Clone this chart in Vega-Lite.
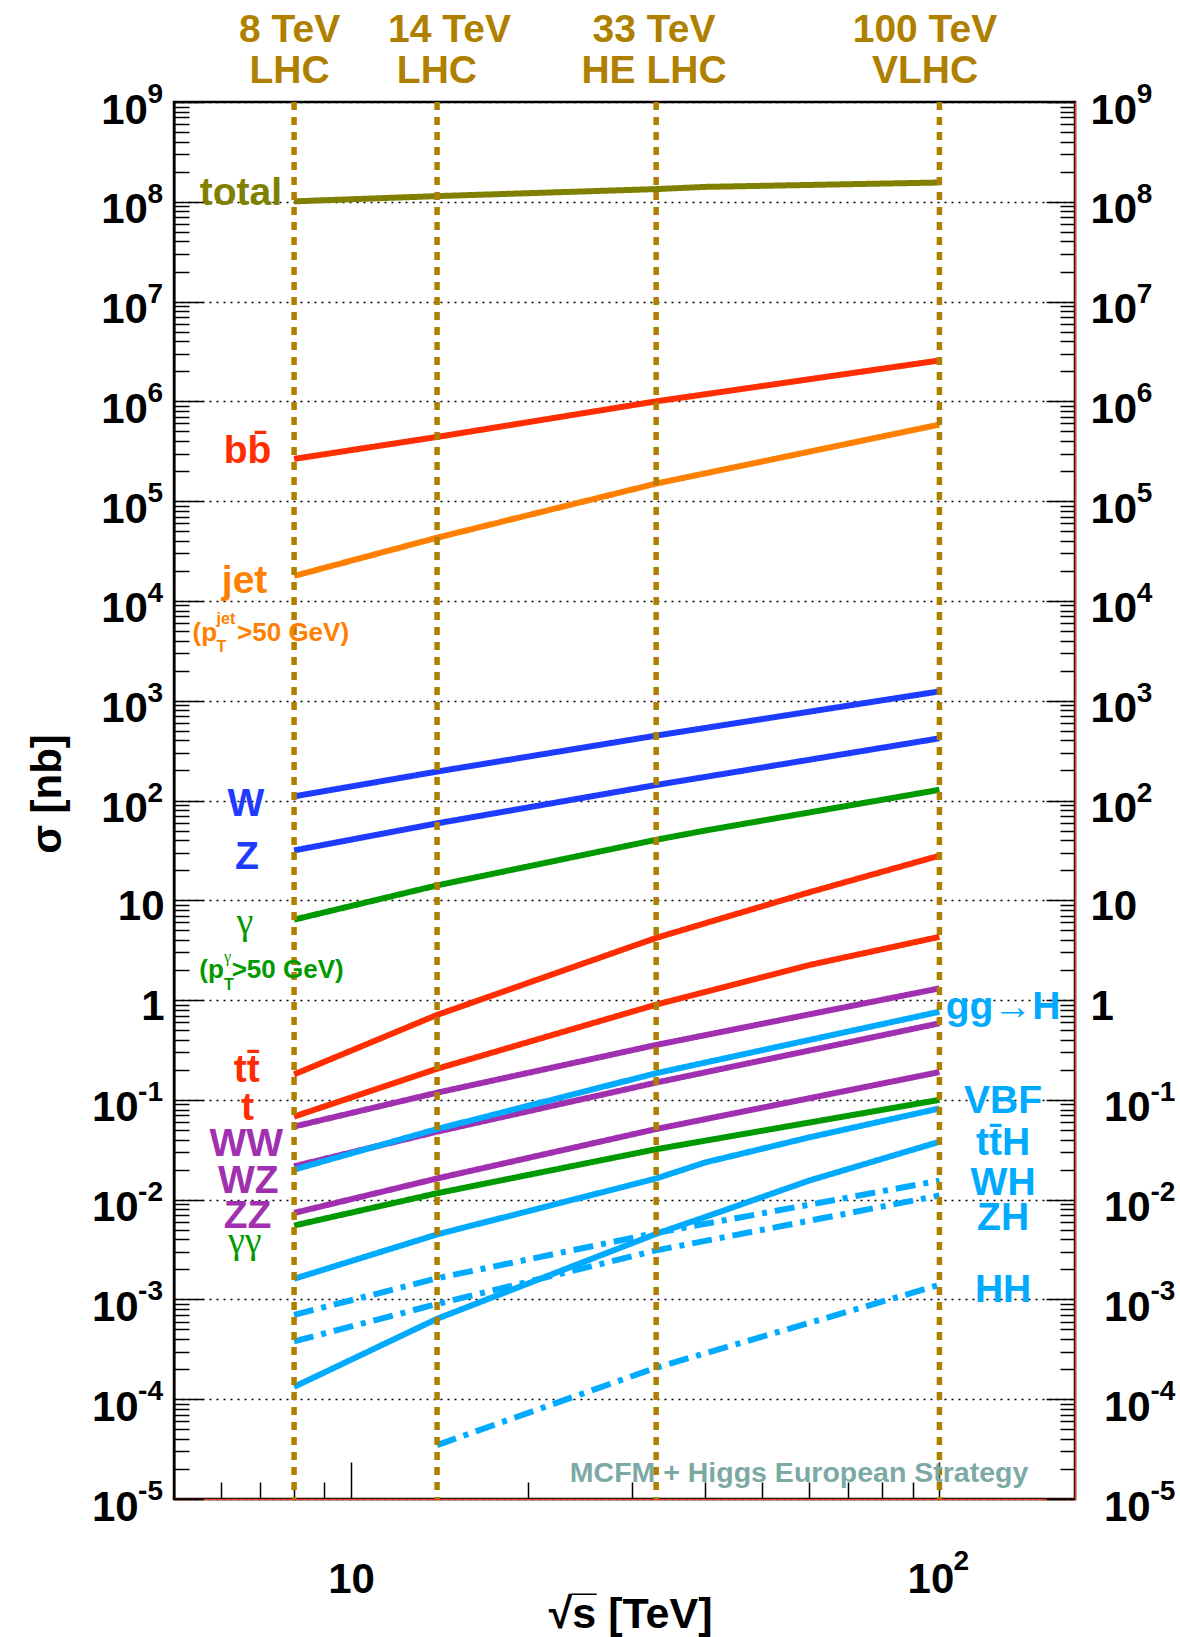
{
  "$schema": "https://vega.github.io/schema/vega-lite/v6.json",
  "width": 901,
  "height": 1397,
  "autosize": {"type": "none"},
  "padding": {"left": 174, "top": 102, "right": 105, "bottom": 138},
  "background": "#ffffff",
  "config": {
    "view": {"stroke": "#000000", "strokeWidth": 2.5},
    "font": "Liberation Sans",
    "axis": {
      "labelFont": "Liberation Sans", "titleFont": "Liberation Sans",
      "labelColor": "#000000", "titleColor": "#000000",
      "tickColor": "#000000", "tickWidth": 1.5,
      "labelOverlap": false, "labelFlush": false, "labelBound": false,
      "labelFontSize": 42, "labelFontWeight": "bold"
    }
  },
  "datasets": {
    "xsec": [
      {"process": "total", "family": "total", "style": "solid", "sqrts": 8, "sigma": 1.01e8},
      {"process": "total", "family": "total", "style": "solid", "sqrts": 14, "sigma": 1.14e8},
      {"process": "total", "family": "total", "style": "solid", "sqrts": 33, "sigma": 1.34e8},
      {"process": "total", "family": "total", "style": "solid", "sqrts": 40, "sigma": 1.41e8},
      {"process": "total", "family": "total", "style": "solid", "sqrts": 100, "sigma": 1.56e8},
      {"process": "bb", "family": "heavy", "style": "solid", "sqrts": 8, "sigma": 2.65e5},
      {"process": "bb", "family": "heavy", "style": "solid", "sqrts": 14, "sigma": 4.4e5},
      {"process": "bb", "family": "heavy", "style": "solid", "sqrts": 33, "sigma": 1.0e6},
      {"process": "bb", "family": "heavy", "style": "solid", "sqrts": 100, "sigma": 2.57e6},
      {"process": "jet", "family": "jet", "style": "solid", "sqrts": 8, "sigma": 1.78e4},
      {"process": "jet", "family": "jet", "style": "solid", "sqrts": 14, "sigma": 4.3e4},
      {"process": "jet", "family": "jet", "style": "solid", "sqrts": 33, "sigma": 1.5e5},
      {"process": "jet", "family": "jet", "style": "solid", "sqrts": 100, "sigma": 5.85e5},
      {"process": "W", "family": "ew", "style": "solid", "sqrts": 8, "sigma": 110},
      {"process": "W", "family": "ew", "style": "solid", "sqrts": 14, "sigma": 195},
      {"process": "W", "family": "ew", "style": "solid", "sqrts": 33, "sigma": 447},
      {"process": "W", "family": "ew", "style": "solid", "sqrts": 100, "sigma": 1240},
      {"process": "Z", "family": "ew", "style": "solid", "sqrts": 8, "sigma": 31.6},
      {"process": "Z", "family": "ew", "style": "solid", "sqrts": 14, "sigma": 59},
      {"process": "Z", "family": "ew", "style": "solid", "sqrts": 33, "sigma": 143},
      {"process": "Z", "family": "ew", "style": "solid", "sqrts": 100, "sigma": 420},
      {"process": "gamma", "family": "photon", "style": "solid", "sqrts": 8, "sigma": 6.4},
      {"process": "gamma", "family": "photon", "style": "solid", "sqrts": 14, "sigma": 14.1},
      {"process": "gamma", "family": "photon", "style": "solid", "sqrts": 33, "sigma": 40.4},
      {"process": "gamma", "family": "photon", "style": "solid", "sqrts": 40, "sigma": 50},
      {"process": "gamma", "family": "photon", "style": "solid", "sqrts": 100, "sigma": 128},
      {"process": "ttbar", "family": "heavy", "style": "solid", "sqrts": 8, "sigma": 0.18},
      {"process": "ttbar", "family": "heavy", "style": "solid", "sqrts": 14, "sigma": 0.71},
      {"process": "ttbar", "family": "heavy", "style": "solid", "sqrts": 33, "sigma": 4.2},
      {"process": "ttbar", "family": "heavy", "style": "solid", "sqrts": 60, "sigma": 12},
      {"process": "ttbar", "family": "heavy", "style": "solid", "sqrts": 100, "sigma": 28},
      {"process": "t", "family": "heavy", "style": "solid", "sqrts": 8, "sigma": 0.068},
      {"process": "t", "family": "heavy", "style": "solid", "sqrts": 14, "sigma": 0.205},
      {"process": "t", "family": "heavy", "style": "solid", "sqrts": 33, "sigma": 0.9},
      {"process": "t", "family": "heavy", "style": "solid", "sqrts": 60, "sigma": 2.24},
      {"process": "t", "family": "heavy", "style": "solid", "sqrts": 100, "sigma": 4.3},
      {"process": "WW", "family": "diboson", "style": "solid", "sqrts": 8, "sigma": 0.054},
      {"process": "WW", "family": "diboson", "style": "solid", "sqrts": 14, "sigma": 0.118},
      {"process": "WW", "family": "diboson", "style": "solid", "sqrts": 33, "sigma": 0.355},
      {"process": "WW", "family": "diboson", "style": "solid", "sqrts": 100, "sigma": 1.31},
      {"process": "WZ", "family": "diboson", "style": "solid", "sqrts": 8, "sigma": 0.0216},
      {"process": "WZ", "family": "diboson", "style": "solid", "sqrts": 14, "sigma": 0.048},
      {"process": "WZ", "family": "diboson", "style": "solid", "sqrts": 33, "sigma": 0.149},
      {"process": "WZ", "family": "diboson", "style": "solid", "sqrts": 100, "sigma": 0.585},
      {"process": "ZZ", "family": "diboson", "style": "solid", "sqrts": 8, "sigma": 0.00736},
      {"process": "ZZ", "family": "diboson", "style": "solid", "sqrts": 14, "sigma": 0.0163},
      {"process": "ZZ", "family": "diboson", "style": "solid", "sqrts": 33, "sigma": 0.051},
      {"process": "ZZ", "family": "diboson", "style": "solid", "sqrts": 100, "sigma": 0.19},
      {"process": "gammagamma", "family": "photon", "style": "solid", "sqrts": 8, "sigma": 0.0055},
      {"process": "gammagamma", "family": "photon", "style": "solid", "sqrts": 14, "sigma": 0.0116},
      {"process": "gammagamma", "family": "photon", "style": "solid", "sqrts": 33, "sigma": 0.032},
      {"process": "gammagamma", "family": "photon", "style": "solid", "sqrts": 100, "sigma": 0.1},
      {"process": "ggH", "family": "higgs", "style": "solid", "sqrts": 8, "sigma": 0.02},
      {"process": "ggH", "family": "higgs", "style": "solid", "sqrts": 14, "sigma": 0.051},
      {"process": "ggH", "family": "higgs", "style": "solid", "sqrts": 33, "sigma": 0.185},
      {"process": "ggH", "family": "higgs", "style": "solid", "sqrts": 100, "sigma": 0.764},
      {"process": "VBF", "family": "higgs", "style": "solid", "sqrts": 8, "sigma": 0.00161},
      {"process": "VBF", "family": "higgs", "style": "solid", "sqrts": 14, "sigma": 0.00448},
      {"process": "VBF", "family": "higgs", "style": "solid", "sqrts": 33, "sigma": 0.0163},
      {"process": "VBF", "family": "higgs", "style": "solid", "sqrts": 40, "sigma": 0.0236},
      {"process": "VBF", "family": "higgs", "style": "solid", "sqrts": 60, "sigma": 0.042},
      {"process": "VBF", "family": "higgs", "style": "solid", "sqrts": 100, "sigma": 0.082},
      {"process": "ttH", "family": "higgs", "style": "solid", "sqrts": 8, "sigma": 1.33e-4},
      {"process": "ttH", "family": "higgs", "style": "solid", "sqrts": 14, "sigma": 6.4e-4},
      {"process": "ttH", "family": "higgs", "style": "solid", "sqrts": 33, "sigma": 0.00454},
      {"process": "ttH", "family": "higgs", "style": "solid", "sqrts": 40, "sigma": 0.0067},
      {"process": "ttH", "family": "higgs", "style": "solid", "sqrts": 60, "sigma": 0.0155},
      {"process": "ttH", "family": "higgs", "style": "solid", "sqrts": 100, "sigma": 0.038},
      {"process": "WH", "family": "higgs", "style": "dashdot", "sqrts": 8, "sigma": 7.0e-4},
      {"process": "WH", "family": "higgs", "style": "dashdot", "sqrts": 14, "sigma": 0.00163},
      {"process": "WH", "family": "higgs", "style": "dashdot", "sqrts": 33, "sigma": 0.00464},
      {"process": "WH", "family": "higgs", "style": "dashdot", "sqrts": 100, "sigma": 0.0155},
      {"process": "ZH", "family": "higgs", "style": "dashdot", "sqrts": 8, "sigma": 3.8e-4},
      {"process": "ZH", "family": "higgs", "style": "dashdot", "sqrts": 14, "sigma": 9.0e-4},
      {"process": "ZH", "family": "higgs", "style": "dashdot", "sqrts": 33, "sigma": 0.0031},
      {"process": "ZH", "family": "higgs", "style": "dashdot", "sqrts": 100, "sigma": 0.011},
      {"process": "HH", "family": "higgs", "style": "dashdot", "sqrts": 14, "sigma": 3.47e-5},
      {"process": "HH", "family": "higgs", "style": "dashdot", "sqrts": 33, "sigma": 2.07e-4},
      {"process": "HH", "family": "higgs", "style": "dashdot", "sqrts": 100, "sigma": 1.4e-3}
    ],
    "beams": [{"sqrts": 8}, {"sqrts": 14}, {"sqrts": 33}, {"sqrts": 100}],
    "colliders": [
      {"label": "8 TeV", "sqrts": 7.86, "sigma": 4.02e9},
      {"label": "LHC", "sqrts": 7.86, "sigma": 1.561e9},
      {"label": "14 TeV", "sqrts": 14.7, "sigma": 4.02e9},
      {"label": "LHC", "sqrts": 13.99, "sigma": 1.561e9},
      {"label": "33 TeV", "sqrts": 32.72, "sigma": 4.02e9},
      {"label": "HE LHC", "sqrts": 32.72, "sigma": 1.561e9},
      {"label": "100 TeV", "sqrts": 94.5, "sigma": 4.02e9},
      {"label": "VLHC", "sqrts": 94.5, "sigma": 1.561e9}
    ],
    "names": [
      {"label": "total", "family": "total", "sqrts": 6.494, "sigma": 9.29e7},
      {"label": "bb\u0304", "family": "heavy", "sqrts": 6.668, "sigma": 2.395e5},
      {"label": "jet", "family": "jet", "sqrts": 6.59, "sigma": 1.202e4},
      {"label": "W", "family": "ew", "sqrts": 6.622, "sigma": 69.9},
      {"label": "Z", "family": "ew", "sqrts": 6.654, "sigma": 20.45},
      {"label": "tt\u0304", "family": "heavy", "sqrts": 6.648, "sigma": 0.1524},
      {"label": "t", "family": "heavy", "sqrts": 6.668, "sigma": 0.0629},
      {"label": "WW", "family": "diboson", "sqrts": 6.637, "sigma": 0.02742},
      {"label": "WZ", "family": "diboson", "sqrts": 6.689, "sigma": 0.01175},
      {"label": "ZZ", "family": "diboson", "sqrts": 6.668, "sigma": 0.005166},
      {"label": "gg\u2192H", "family": "higgs", "sqrts": 128.3, "sigma": 0.65},
      {"label": "VBF", "family": "higgs", "sqrts": 128.3, "sigma": 0.0744},
      {"label": "tt\u0304H", "family": "higgs", "sqrts": 128.3, "sigma": 0.02805},
      {"label": "WH", "family": "higgs", "sqrts": 128.3, "sigma": 0.01114},
      {"label": "ZH", "family": "higgs", "sqrts": 128.3, "sigma": 0.004966},
      {"label": "HH", "family": "higgs", "sqrts": 128.3, "sigma": 0.000944}
    ],
    "greek": [
      {"label": "\u03b3", "family": "photon", "sqrts": 6.596, "sigma": 4.6},
      {"label": "\u03b3\u03b3", "family": "photon", "sqrts": 6.596, "sigma": 0.002924}
    ],
    "cuts": [
      {"label": "(p", "family": "jet", "sqrts": 5.378, "sigma": 3972},
      {"label": ">50 GeV)", "family": "jet", "sqrts": 6.4, "sigma": 3972},
      {"label": "(p", "family": "photon", "sqrts": 5.52, "sigma": 1.666},
      {"label": ">50 GeV)", "family": "photon", "sqrts": 6.265, "sigma": 1.666}
    ],
    "cutscripts": [
      {"label": "jet", "family": "jet", "sqrts": 5.906, "sigma": 5875},
      {"label": "T", "family": "jet", "sqrts": 5.906, "sigma": 3076},
      {"label": "T", "family": "photon", "sqrts": 6.08, "sigma": 1.263}
    ],
    "cutgreek": [
      {"label": "\u03b3", "family": "photon", "sqrts": 6.08, "sigma": 2.41}
    ],
    "credit": [
      {"label": "MCFM + Higgs European Strategy", "sqrts": 57.73, "sigma": 1.493e-5}
    ],
    "exps": [
      {"v": 1e9, "e": "9"}, {"v": 1e8, "e": "8"}, {"v": 1e7, "e": "7"},
      {"v": 1e6, "e": "6"}, {"v": 1e5, "e": "5"}, {"v": 1e4, "e": "4"},
      {"v": 1e3, "e": "3"}, {"v": 1e2, "e": "2"},
      {"v": 0.1, "e": "-1"}, {"v": 0.01, "e": "-2"}, {"v": 0.001, "e": "-3"},
      {"v": 1e-4, "e": "-4"}, {"v": 1e-5, "e": "-5"}
    ],
    "xexp": [{"v": 100, "e": "2"}]
  },
  "layer": [
    {
      "data": {"name": "xsec"},
      "mark": {"type": "line", "strokeWidth": 6, "strokeCap": "butt"},
      "encoding": {
        "x": {
          "field": "sqrts", "type": "quantitative",
          "scale": {"type": "log", "domain": [5, 170], "nice": false},
          "axis": {
            "orient": "bottom",
            "values": [6, 7, 8, 9, 10, 20, 30, 40, 50, 60, 70, 80, 90, 100],
            "labelExpr": "datum.value == 10 || datum.value == 100 ? '10' : ''",
            "tickSize": {"condition": {"test": "datum.value == 10 || datum.value == 100", "value": -37}, "value": -17},
            "labelOffset": {"condition": {"test": "datum.value == 100", "value": -9}, "value": 0},
            "labelPadding": 130,
            "labelBaseline": "alphabetic",
            "labelAlign": "center",
            "grid": false,
            "domainColor": "#E8432A", "domainWidth": 1.5,
            "title": "\u221as\u0305 [TeV]",
            "titleX": 538, "titleY": 128,
            "titleAlign": "right", "titleBaseline": "alphabetic",
            "titleFontSize": 43, "titleFontWeight": "bold"
          }
        },
        "y": {
          "field": "sigma", "type": "quantitative",
          "scale": {"type": "log", "domain": [1e-5, 1e9], "nice": false},
          "axis": {
            "orient": "left",
            "values": [1e-5,2e-5,3e-5,4e-5,5e-5,6e-5,7e-5,8e-5,9e-5,1e-4,2e-4,3e-4,4e-4,5e-4,6e-4,7e-4,8e-4,9e-4,0.001,0.002,0.003,0.004,0.005,0.006,0.007,0.008,0.009,0.01,0.02,0.03,0.04,0.05,0.06,0.07,0.08,0.09,0.1,0.2,0.3,0.4,0.5,0.6,0.7,0.8,0.9,1,2,3,4,5,6,7,8,9,10,20,30,40,50,60,70,80,90,100,200,300,400,500,600,700,800,900,1000,2000,3000,4000,5000,6000,7000,8000,9000,1e4,2e4,3e4,4e4,5e4,6e4,7e4,8e4,9e4,1e5,2e5,3e5,4e5,5e5,6e5,7e5,8e5,9e5,1e6,2e6,3e6,4e6,5e6,6e6,7e6,8e6,9e6,1e7,2e7,3e7,4e7,5e7,6e7,7e7,8e7,9e7,1e8,2e8,3e8,4e8,5e8,6e8,7e8,8e8,9e8,1e9],
            "labelExpr": "abs(log(datum.value)/LN10 - round(log(datum.value)/LN10)) < 0.001 ? (datum.value > 0.5 && datum.value < 2 ? '1' : '10') : ''",
            "tickSize": {"condition": {"test": "abs(log(datum.value)/LN10 - round(log(datum.value)/LN10)) < 0.001", "value": -29}, "value": -15},
            "grid": true,
            "gridColor": "#000000", "gridDash": [2, 5], "gridWidth": 1.3,
            "gridOpacity": {"condition": {"test": "abs(log(datum.value)/LN10 - round(log(datum.value)/LN10)) < 0.001", "value": 1}, "value": 0},
            "labelPadding": {"condition": [{"test": "datum.value < 0.5", "value": 64.9}, {"test": "datum.value < 20", "value": 39}], "value": 55.6},
            "labelOffset": {"condition": {"test": "datum.value > 0.5 && datum.value < 20", "value": 19}, "value": 21},
            "labelBaseline": "alphabetic",
            "labelAlign": "right",
            "domainColor": "#000000", "domainWidth": 2,
            "title": "\u03c3 [nb]",
            "titleX": -114, "titleY": 691.5, "titleAngle": -90,
            "titleAlign": "center", "titleBaseline": "alphabetic",
            "titleFontSize": 42, "titleFontWeight": "bold"
          }
        },
        "color": {
          "field": "family", "type": "nominal",
          "scale": {
            "domain": ["total", "heavy", "jet", "ew", "photon", "diboson", "higgs"],
            "range": ["#808000", "#FF2D00", "#FF8000", "#1E3CFF", "#009A00", "#A030B0", "#00AAFF"]
          },
          "legend": null
        },
        "strokeDash": {
          "field": "style", "type": "nominal",
          "scale": {"domain": ["solid", "dashdot"], "range": [[1, 0], [20, 8, 5, 8]]},
          "legend": null
        },
        "detail": {"field": "process"}
      }
    },
    {
      "data": {"name": "beams"},
      "mark": {"type": "rule", "color": "#AF7F00", "strokeWidth": 5.5, "strokeDash": [8, 7]},
      "encoding": {
        "x": {"field": "sqrts", "type": "quantitative", "scale": {"type": "log", "domain": [5, 170], "nice": false}, "axis": null}
      }
    },
    {
      "data": {"name": "colliders"},
      "mark": {"type": "text", "align": "center", "baseline": "alphabetic", "fontSize": 39, "fontWeight": "bold", "font": "Liberation Sans", "color": "#AF7F00"},
      "encoding": {
        "x": {"field": "sqrts", "type": "quantitative", "scale": {"type": "log", "domain": [5, 170], "nice": false}, "axis": null},
        "y": {"field": "sigma", "type": "quantitative", "scale": {"type": "log", "domain": [1e-5, 1e9], "nice": false}, "axis": null},
        "text": {"field": "label"}
      }
    },
    {
      "data": {"name": "names"},
      "mark": {"type": "text", "align": "center", "baseline": "alphabetic", "fontSize": 39, "fontWeight": "bold", "font": "Liberation Sans"},
      "encoding": {
        "x": {"field": "sqrts", "type": "quantitative", "scale": {"type": "log", "domain": [5, 170], "nice": false}, "axis": null},
        "y": {"field": "sigma", "type": "quantitative", "scale": {"type": "log", "domain": [1e-5, 1e9], "nice": false}, "axis": null},
        "text": {"field": "label"},
        "color": {"field": "family", "type": "nominal", "legend": null}
      }
    },
    {
      "data": {"name": "greek"},
      "mark": {"type": "text", "align": "center", "baseline": "alphabetic", "fontSize": 38, "fontWeight": "normal", "font": "Liberation Serif"},
      "encoding": {
        "x": {"field": "sqrts", "type": "quantitative", "scale": {"type": "log", "domain": [5, 170], "nice": false}, "axis": null},
        "y": {"field": "sigma", "type": "quantitative", "scale": {"type": "log", "domain": [1e-5, 1e9], "nice": false}, "axis": null},
        "text": {"field": "label"},
        "color": {"field": "family", "type": "nominal", "legend": null}
      }
    },
    {
      "data": {"name": "cuts"},
      "mark": {"type": "text", "align": "left", "baseline": "alphabetic", "fontSize": 26, "fontWeight": "bold", "font": "Liberation Sans"},
      "encoding": {
        "x": {"field": "sqrts", "type": "quantitative", "scale": {"type": "log", "domain": [5, 170], "nice": false}, "axis": null},
        "y": {"field": "sigma", "type": "quantitative", "scale": {"type": "log", "domain": [1e-5, 1e9], "nice": false}, "axis": null},
        "text": {"field": "label"},
        "color": {"field": "family", "type": "nominal", "legend": null}
      }
    },
    {
      "data": {"name": "cutscripts"},
      "mark": {"type": "text", "align": "left", "baseline": "alphabetic", "fontSize": 16, "fontWeight": "bold", "font": "Liberation Sans"},
      "encoding": {
        "x": {"field": "sqrts", "type": "quantitative", "scale": {"type": "log", "domain": [5, 170], "nice": false}, "axis": null},
        "y": {"field": "sigma", "type": "quantitative", "scale": {"type": "log", "domain": [1e-5, 1e9], "nice": false}, "axis": null},
        "text": {"field": "label"},
        "color": {"field": "family", "type": "nominal", "legend": null}
      }
    },
    {
      "data": {"name": "cutgreek"},
      "mark": {"type": "text", "align": "left", "baseline": "alphabetic", "fontSize": 16, "fontWeight": "normal", "font": "Liberation Serif"},
      "encoding": {
        "x": {"field": "sqrts", "type": "quantitative", "scale": {"type": "log", "domain": [5, 170], "nice": false}, "axis": null},
        "y": {"field": "sigma", "type": "quantitative", "scale": {"type": "log", "domain": [1e-5, 1e9], "nice": false}, "axis": null},
        "text": {"field": "label"},
        "color": {"field": "family", "type": "nominal", "legend": null}
      }
    },
    {
      "data": {"name": "credit"},
      "mark": {"type": "text", "align": "center", "baseline": "alphabetic", "fontSize": 28.5, "fontWeight": "bold", "font": "Liberation Sans", "color": "#7DA9A5"},
      "encoding": {
        "x": {"field": "sqrts", "type": "quantitative", "scale": {"type": "log", "domain": [5, 170], "nice": false}, "axis": null},
        "y": {"field": "sigma", "type": "quantitative", "scale": {"type": "log", "domain": [1e-5, 1e9], "nice": false}, "axis": null},
        "text": {"field": "label"}
      }
    },
    {
      "data": {"name": "exps"},
      "mark": {"type": "text", "align": "right", "baseline": "alphabetic", "dx": -11, "dy": 1, "fontSize": 28, "fontWeight": "bold", "font": "Liberation Sans", "color": "#000000"},
      "encoding": {
        "x": {"datum": 5, "type": "quantitative", "scale": {"type": "log", "domain": [5, 170], "nice": false}, "axis": null},
        "y": {"field": "v", "type": "quantitative", "scale": {"type": "log", "domain": [1e-5, 1e9], "nice": false}, "axis": null},
        "text": {"field": "e"}
      }
    },
    {
      "data": {"name": "exps"},
      "transform": [{"filter": "datum.v > 1"}],
      "mark": {"type": "text", "align": "left", "baseline": "alphabetic", "dx": 61.7, "dy": 1, "fontSize": 28, "fontWeight": "bold", "font": "Liberation Sans", "color": "#000000"},
      "encoding": {
        "x": {"datum": 170, "type": "quantitative", "scale": {"type": "log", "domain": [5, 170], "nice": false}, "axis": null},
        "y": {
          "field": "v", "type": "quantitative",
          "scale": {"type": "log", "domain": [1e-5, 1e9], "nice": false},
          "axis": {
            "orient": "right",
            "values": [1e-5,2e-5,3e-5,4e-5,5e-5,6e-5,7e-5,8e-5,9e-5,1e-4,2e-4,3e-4,4e-4,5e-4,6e-4,7e-4,8e-4,9e-4,0.001,0.002,0.003,0.004,0.005,0.006,0.007,0.008,0.009,0.01,0.02,0.03,0.04,0.05,0.06,0.07,0.08,0.09,0.1,0.2,0.3,0.4,0.5,0.6,0.7,0.8,0.9,1,2,3,4,5,6,7,8,9,10,20,30,40,50,60,70,80,90,100,200,300,400,500,600,700,800,900,1000,2000,3000,4000,5000,6000,7000,8000,9000,1e4,2e4,3e4,4e4,5e4,6e4,7e4,8e4,9e4,1e5,2e5,3e5,4e5,5e5,6e5,7e5,8e5,9e5,1e6,2e6,3e6,4e6,5e6,6e6,7e6,8e6,9e6,1e7,2e7,3e7,4e7,5e7,6e7,7e7,8e7,9e7,1e8,2e8,3e8,4e8,5e8,6e8,7e8,8e8,9e8,1e9],
            "labelExpr": "abs(log(datum.value)/LN10 - round(log(datum.value)/LN10)) < 0.001 ? (datum.value > 0.5 && datum.value < 2 ? '1' : '10') : ''",
            "tickSize": {"condition": {"test": "abs(log(datum.value)/LN10 - round(log(datum.value)/LN10)) < 0.001", "value": -29}, "value": -15},
            "grid": false,
            "labelPadding": {"condition": {"test": "datum.value < 0.5", "value": 57.5}, "value": 44},
            "labelOffset": {"condition": {"test": "datum.value > 0.5 && datum.value < 20", "value": 19}, "value": 21},
            "labelBaseline": "alphabetic",
            "labelAlign": "left",
            "domainColor": "#E8432A", "domainWidth": 1.5,
            "title": null
          }
        },
        "text": {"field": "e"}
      }
    },
    {
      "data": {"name": "exps"},
      "transform": [{"filter": "datum.v < 1"}],
      "mark": {"type": "text", "align": "left", "baseline": "alphabetic", "dx": 75.5, "dy": 1, "fontSize": 28, "fontWeight": "bold", "font": "Liberation Sans", "color": "#000000"},
      "encoding": {
        "x": {"datum": 170, "type": "quantitative", "scale": {"type": "log", "domain": [5, 170], "nice": false}, "axis": null},
        "y": {"field": "v", "type": "quantitative", "scale": {"type": "log", "domain": [1e-5, 1e9], "nice": false}, "axis": null},
        "text": {"field": "e"}
      }
    },
    {
      "data": {"name": "xexp"},
      "mark": {"type": "text", "align": "left", "baseline": "alphabetic", "dx": 14, "fontSize": 28, "fontWeight": "bold", "font": "Liberation Sans", "color": "#000000"},
      "encoding": {
        "x": {"field": "v", "type": "quantitative", "scale": {"type": "log", "domain": [5, 170], "nice": false}, "axis": null},
        "y": {"datum": 1.95e-6, "type": "quantitative", "scale": {"type": "log", "domain": [1e-5, 1e9], "nice": false}, "axis": null},
        "text": {"field": "e"}
      }
    }
  ],
  "resolve": {"axis": {"x": "independent", "y": "independent"}}
}
